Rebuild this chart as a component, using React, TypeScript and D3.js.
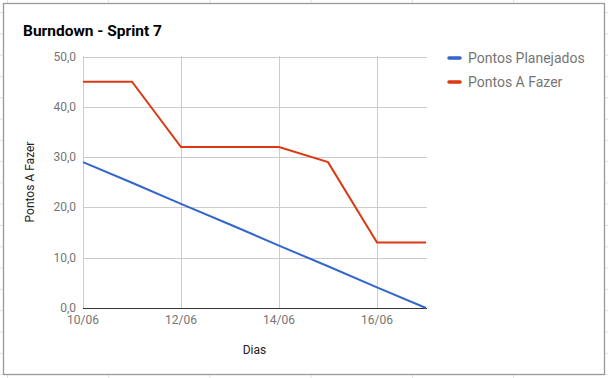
import React from "react";
import * as d3 from "d3";

const days = ["10/06", "11/06", "12/06", "13/06", "14/06", "15/06", "16/06", "17/06"];
const planejados = [29, 24.9, 20.7, 16.6, 12.4, 8.3, 4.1, 0];
const aFazer = [45, 45, 32, 32, 32, 29, 13, 13];
const yTicks = [0, 10, 20, 30, 40, 50];
const xTickLabels = ["10/06", "12/06", "14/06", "16/06"];
const seriesNames = ["Pontos Planejados", "Pontos A Fazer"];
const colors = ["#3366cc", "#dc3912"];

const W = 608;
const H = 378;
const FONT = "Roboto, 'Noto Sans', sans-serif";

export default function App() {
  const x = d3.scalePoint<string>().domain(days).range([83, 426]);
  const y = d3.scaleLinear().domain([0, 50]).range([308, 56.5]);
  const line = d3
    .line<number>()
    .x((_, i) => x(days[i]) as number)
    .y((d) => y(d));

  const cols = d3.range(7, W, 101.2);
  const rows = d3.range(12, H, 21.3);

  return (
    <svg
      width={W}
      height={H}
      style={{ position: "absolute", left: 0, top: 0 }}
      fontFamily={FONT}
    >
      <rect x={0} y={0} width={W} height={H} fill="#fff" />
      {cols.map((c, i) => (
        <line key={"c" + i} x1={c + 0.5} x2={c + 0.5} y1={0} y2={H} stroke="#e2e2e2" />
      ))}
      {rows.map((r, i) => (
        <line key={"r" + i} x1={0} x2={W} y1={r + 0.5} y2={r + 0.5} stroke="#e2e2e2" />
      ))}
      <rect x={3.5} y={3.5} width={601} height={371} fill="#fff" stroke="#9a9a9a" strokeWidth={1.3} />

      <text x={23} y={36} fontSize={15.5} fontWeight="bold" fill="#000">
        Burndown - Sprint 7
      </text>

      {yTicks.map((t) => (
        <g key={"y" + t}>
          {t > 0 && (
            <line x1={83} x2={427} y1={Math.round(y(t)) + 0.5} y2={Math.round(y(t)) + 0.5} stroke="#cccccc" />
          )}
          <text x={76} y={y(t) + 4} fontSize={12} fill="#757575" textAnchor="end">
            {d3.format(".1f")(t).replace(".", ",")}
          </text>
        </g>
      ))}
      {xTickLabels.map((d) => (
        <g key={"x" + d}>
          <line
            x1={Math.round(x(d) as number) + 0.5}
            x2={Math.round(x(d) as number) + 0.5}
            y1={56}
            y2={308}
            stroke="#cccccc"
          />
          <text x={x(d) as number} y={324} fontSize={12} fill="#757575" textAnchor="middle">
            {d}
          </text>
        </g>
      ))}
      <line x1={83} x2={427} y1={308.5} y2={308.5} stroke="#333" />

      <path d={line(planejados) || ""} fill="none" stroke={colors[0]} strokeWidth={2} />
      <path d={line(aFazer) || ""} fill="none" stroke={colors[1]} strokeWidth={2} />

      <text x={254.5} y={354} fontSize={12} fill="#222" textAnchor="middle">
        Dias
      </text>
      <text
        transform={`translate(34,182) rotate(-90)`}
        fontSize={12}
        fill="#222"
        textAnchor="middle"
      >
        Pontos A Fazer
      </text>

      {seriesNames.map((n, i) => (
        <g key={n}>
          <line
            x1={449}
            x2={460}
            y1={58 + i * 24}
            y2={58 + i * 24}
            stroke={colors[i]}
            strokeWidth={3.5}
            strokeLinecap="round"
          />
          <text x={468} y={63 + i * 24} fontSize={14} fill="#757575">
            {n}
          </text>
        </g>
      ))}
    </svg>
  );
}
